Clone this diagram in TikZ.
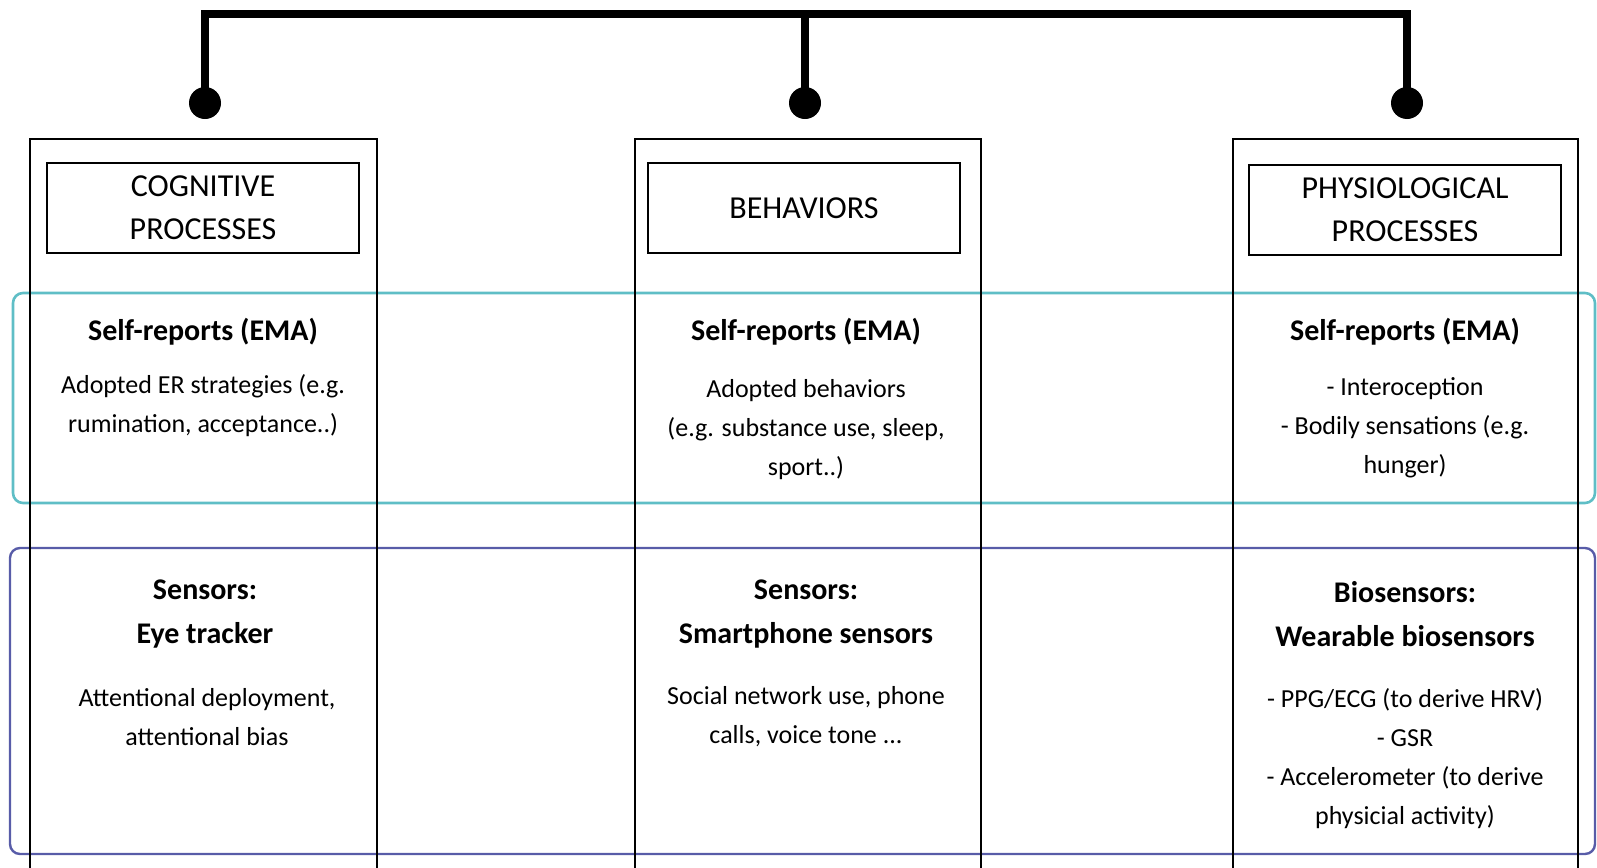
\documentclass[tikz,border=0pt]{standalone}
\usepackage{fontspec}
\setmainfont{Carlito}
\usepackage{xcolor}
\definecolor{emateal}{RGB}{95,190,198}
\definecolor{sensblue}{RGB}{88,92,168}
\tikzset{%
	column/.style  = {line width=1pt},
	header/.style  = {draw, rectangle, line width=1.2pt, minimum width=156pt, minimum height=45pt, align=center, font=\fontsize{16}{21.5}\selectfont},
	title/.style   = {align=center, font=\bfseries\fontsize{15}{22}\selectfont},
	body/.style    = {align=center, font=\fontsize{13}{19.5}\selectfont},
	bus/.style     = {line width=4pt},
	joint/.style   = {circle, fill, inner sep=0pt, minimum size=16pt},
	emabox/.style  = {draw=emateal, line width=1.3pt, rounded corners=5pt},
	sensbox/.style = {draw=sensblue, line width=1.2pt, rounded corners=5pt},
}

\begin{document}
\begin{tikzpicture}[x=0.5pt,y=-0.5pt]
	\useasboundingbox (0,0) rectangle (1597,868);
	\draw[emabox] (13,293) rectangle (1595,503);
	\draw[sensbox] (10,548) rectangle (1595,854);
	
	\draw[column] (30,870) |- (377,139) -- (377,870);
	\draw[column] (635,870) |- (981,139) -- (981,870);
	\draw[column] (1233,870) |- (1578,139) -- (1578,870);
	
	\node[joint] (jCog) at (205,103) {};
	\node[joint] (jBeh) at (805,103) {};
	\node[joint] (jPhy) at (1407,103) {};
	\coordinate (busL) at (205,14);
	\coordinate (busR) at (1407,14);
	\draw[bus] (jCog.center) -- (busL) -- (busR) -- (jPhy.center);
	\draw[bus] (jBeh.center) -- (jBeh |- busL);
	
	\node[header] (hCog) at (203,208) {COGNITIVE\\PROCESSES};
	\node[header] (hBeh) at (804,208) {BEHAVIORS};
	\node[header] (hPhy) at (1405,210) {PHYSIOLOGICAL\\PROCESSES};
	
	\node[title] (srCog) at (203,332) {Self-reports (EMA)};
	\node[body]  (srCogTxt) at (203,406) {Adopted ER strategies (e.g.\\rumination, acceptance..)};
	\node[title] (srBeh) at (806,332) {Self-reports (EMA)};
	\node[body]  (srBehTxt) at (806,430) {Adopted behaviors\\(e.g. substance use, sleep,\\sport..)};
	\node[title] (srPhy) at (1405,332) {Self-reports (EMA)};
	\node[body]  (srPhyTxt) at (1405,428) {- Interoception\\- Bodily sensations (e.g.\\hunger)};
	
	\node[title] (snCog) at (205,614) {Sensors:\\Eye tracker};
	\node[body]  (snCogTxt) at (207,717) {Attentional deployment,\\attentional bias};
	\node[title] (snBeh) at (806,614) {Sensors:\\Smartphone sensors};
	\node[body]  (snBehTxt) at (806,717) {Social network use, phone\\calls, voice tone ...};
	\node[title] (snPhy) at (1405,614) {Biosensors:\\Wearable biosensors};
	\node[body]  (snPhyTxt) at (1405,759) {- PPG/ECG (to derive HRV)\\- GSR\\- Accelerometer (to derive\\physicial activity)};
\end{tikzpicture}
\end{document}
